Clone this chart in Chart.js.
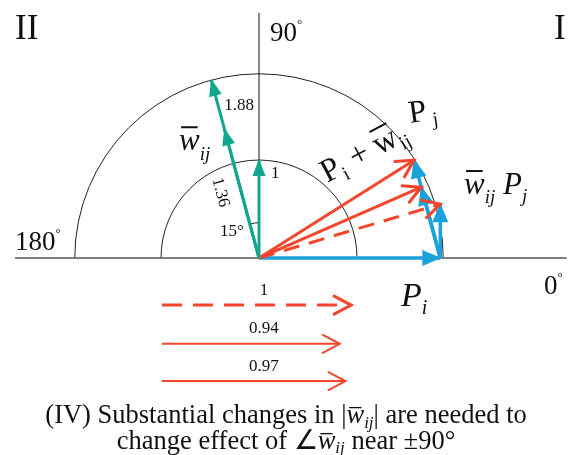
<!DOCTYPE html>
<html>
<head>
<meta charset="utf-8">
<script src="https://cdn.jsdelivr.net/npm/chart.js@4.4.0/dist/chart.umd.min.js"></script>
<style>
html, body { margin: 0; padding: 0; background: #fff; }
#wrap { width: 572px; height: 455px; position: relative; }
</style>
</head>
<body>
<div id="wrap"><canvas id="phasor"></canvas></div>
<script>
// w_ij phasors (green): magnitude and angle in degrees
var wMag = [1, 1.36, 1.88];
var wAngle = [90, 105, 105];
// |P_i| and |P_j|, inner circle = 1
var piMag = 1.85;
var pjMag = 0.55;
// |P_i + w_ij P_j| relative to the dashed case, shown under the sketch
var sumLabels = ['1', '0.94', '0.97'];
var sumRel = [1, 0.94, 0.97];
var circleRadii = [1, 1.88];
var angleLabels = ['90', '180', '0'];

var RED = '#f4462c', BLUE = '#1ba2da', GREEN = '#13a68e';
var SERIF = '"Liberation Serif", "Times New Roman", serif';

function rad(d) { return d * Math.PI / 180; }

var datasets = [];

// axes
datasets.push({ data: [{x: -2.49, y: 0}, {x: 3.14, y: 0}], borderColor: '#555', borderWidth: 1.5 });
datasets.push({ data: [{x: 0, y: 0}, {x: 0, y: 2.5}], borderColor: '#111', borderWidth: 1 });

// P_i (blue, along 0 deg)
datasets.push({ data: [{x: 0, y: 0}, {x: piMag, y: 0}], borderColor: BLUE, borderWidth: 3.5, head: 'fill' });

var tips = [];
for (var k = 0; k < wMag.length; k++) {
  var tx = piMag + pjMag * wMag[k] * Math.cos(rad(wAngle[k]));
  var ty = pjMag * wMag[k] * Math.sin(rad(wAngle[k]));
  tips.push({x: tx, y: ty});
  // w_ij P_j (blue)
  datasets.push({ data: [{x: piMag, y: 0}, {x: tx, y: ty}], borderColor: BLUE, borderWidth: 3.5, head: 'fill' });
}
for (var k = 0; k < tips.length; k++) {
  // P_i + w_ij P_j (red)
  datasets.push({ data: [{x: 0, y: 0}, tips[k]], borderColor: RED, borderWidth: 3,
    borderDash: k == 0 ? [16, 10] : [], head: 'open' });
}
for (var k = wMag.length - 1; k >= 0; k--) {
  // w_ij (green)
  datasets.push({ data: [{x: 0, y: 0}, {x: wMag[k] * Math.cos(rad(wAngle[k])), y: wMag[k] * Math.sin(rad(wAngle[k]))}],
    borderColor: GREEN, borderWidth: 3, head: 'fill', small: true });
}

// horizontal comparison arrows under the sketch
var refLen = Math.sqrt(tips[0].x * tips[0].x + tips[0].y * tips[0].y);
var rowY = [-0.48, -0.875, -1.255];
for (var k = 0; k < sumRel.length; k++) {
  datasets.push({ data: [{x: -0.99, y: rowY[k]}, {x: -0.99 + refLen * sumRel[k], y: rowY[k]}],
    borderColor: RED, borderWidth: k == 0 ? 3 : 2, borderDash: k == 0 ? [20, 11] : [], head: 'open', thin: k > 0 });
}

// later datasets are painted on top
datasets.forEach(function (d, i) {
  d.showLine = true; d.pointRadius = 0; d.fill = false; d.borderCapStyle = 'butt';
  d.order = datasets.length - i;
});

function rich(ctx, segs, x, y, align) {
  var w = 0;
  segs.forEach(function (s) { ctx.font = s.f; s.w = ctx.measureText(s.t).width; w += s.w; });
  var cur = align == 'center' ? x - w / 2 : x;
  segs.forEach(function (s) {
    ctx.font = s.f;
    ctx.fillText(s.t, cur, y + (s.dy || 0));
    if (s.bar) {
      ctx.fillRect(cur + s.w * s.bar[0], y + (s.dy || 0) - s.bar[2], s.w * s.bar[1], s.bar[3]);
    }
    cur += s.w;
  });
}

var sketchPlugin = {
  id: 'sketch',
  beforeDatasetsDraw: function (chart) {
    var ctx = chart.ctx, sx = chart.scales.x, sy = chart.scales.y;
    var cx = sx.getPixelForValue(0), cy = sy.getPixelForValue(0);
    ctx.save();
    ctx.strokeStyle = '#222';
    ctx.lineWidth = 1;
    circleRadii.forEach(function (r) {
      var rp = sx.getPixelForValue(r) - cx;
      ctx.beginPath();
      ctx.arc(cx, cy, rp, Math.PI, 2 * Math.PI);
      ctx.stroke();
    });
    var ra = sx.getPixelForValue(0.36) - cx;
    ctx.beginPath();
    ctx.arc(cx, cy, ra, -rad(wAngle[1]), -rad(wAngle[0]));
    ctx.stroke();
    ctx.restore();
  },
  afterDatasetsDraw: function (chart) {
    var ctx = chart.ctx, sx = chart.scales.x, sy = chart.scales.y;
    function X(u) { return sx.getPixelForValue(u); }
    function Y(v) { return sy.getPixelForValue(v); }

    // arrow heads
    chart.data.datasets.forEach(function (ds, i) {
      if (!ds.head) return;
      var pts = chart.getDatasetMeta(i).data;
      var a = pts[pts.length - 2], b = pts[pts.length - 1];
      var ang = Math.atan2(b.y - a.y, b.x - a.x);
      ctx.save();
      ctx.translate(b.x, b.y);
      ctx.rotate(ang);
      if (ds.head == 'open') {
        ctx.strokeStyle = ds.borderColor;
        ctx.lineWidth = ds.thin ? 2 : 3;
        ctx.lineCap = 'round';
        ctx.lineJoin = 'miter';
        ctx.beginPath();
        ctx.moveTo(-17, -9);
        ctx.lineTo(0, 0);
        ctx.lineTo(-17, 9);
        ctx.stroke();
      } else {
        var L = ds.small ? 16 : 18, W = ds.small ? 6.5 : 8;
        ctx.fillStyle = ds.borderColor;
        ctx.beginPath();
        ctx.moveTo(1, 0);
        ctx.lineTo(-L, -W);
        ctx.lineTo(-L, W);
        ctx.closePath();
        ctx.fill();
      }
      ctx.restore();
    });

    ctx.save();
    ctx.fillStyle = '#111';
    ctx.textBaseline = 'alphabetic';
    ctx.textAlign = 'left';
    var f = function (sz, it) { return (it ? 'italic ' : '') + sz + 'px ' + SERIF; };

    // quadrant numerals and angles
    rich(ctx, [{t: 'II', f: f(35)}], X(-2.49), Y(2.24));
    rich(ctx, [{t: 'I', f: f(35)}], X(3.01), Y(2.24));
    rich(ctx, [{t: angleLabels[0], f: f(27)}, {t: '°', f: f(13), dy: -13}], X(0.112), Y(2.214));
    rich(ctx, [{t: angleLabels[1], f: f(27)}, {t: '°', f: f(13), dy: -13}], X(-2.49), Y(0.082));
    rich(ctx, [{t: angleLabels[2], f: f(27)}, {t: '°', f: f(13), dy: -13}], X(2.908), Y(-0.367));

    // magnitudes of w_ij
    rich(ctx, [{t: String(wMag[2]), f: f(17)}], X(-0.204), Y(1.51), 'center');
    rich(ctx, [{t: String(wMag[0]), f: f(17)}], X(0.122), Y(0.816));
    rich(ctx, [{t: '15°', f: f(17)}], X(-0.276), Y(0.224), 'center');
    ctx.save();
    ctx.translate(X(-0.378), Y(0.673));
    ctx.rotate(rad(75));
    rich(ctx, [{t: String(wMag[1]), f: f(17)}], 0, 6, 'center');
    ctx.restore();

    // phasor names
    rich(ctx, [{t: 'w', f: f(31, true), bar: [0.1, 0.8, 24, 2]}, {t: 'ij', f: f(19, true), dy: 10}], X(-0.816), Y(1.10));
    rich(ctx, [{t: 'w', f: f(31, true), bar: [0.1, 0.8, 24, 2]}, {t: 'ij', f: f(19, true), dy: 9},
      {t: ' P', f: f(31, true)}, {t: 'j', f: f(19, true), dy: 8}], X(2.092), Y(0.653));
    rich(ctx, [{t: 'P', f: f(34, true)}, {t: 'i', f: f(20, true), dy: 8}], X(1.449), Y(-0.49));

    ctx.save();
    ctx.translate(X(0.694), Y(0.765));
    ctx.rotate(rad(-28));
    rich(ctx, [{t: 'P', f: f(33)}, {t: 'i', f: f(20), dy: 7}, {t: ' + ', f: f(33)},
      {t: 'w', f: f(33), bar: [0.1, 0.8, 26, 2]}, {t: 'ij', f: f(20), dy: 7}], 0, 0);
    ctx.restore();
    ctx.save();
    ctx.translate(X(1.541), Y(1.378));
    ctx.rotate(rad(-8));
    rich(ctx, [{t: 'P', f: f(32)}, {t: ' j', f: f(20), dy: 6}], 0, 0);
    ctx.restore();

    // relative magnitude labels
    var lblY = [-0.378, -0.765, -1.153];
    for (var k = 0; k < sumLabels.length; k++) {
      rich(ctx, [{t: sumLabels[k], f: f(17)}], X(0.05), Y(lblY[k]), 'center');
    }

    // caption
    rich(ctx, [{t: '(IV) Substantial changes in |', f: f(26.5)},
      {t: 'w', f: f(26.5, true), bar: [0.15, 0.7, 16, 1.3]}, {t: 'ij', f: f(17, true), dy: 5},
      {t: '| are needed to', f: f(26.5)}], X(0.276), Y(-1.683), 'center');
    rich(ctx, [{t: 'change effect of \u2220', f: f(26.5)},
      {t: 'w', f: f(26.5, true), bar: [0.15, 0.7, 16, 1.3]}, {t: 'ij', f: f(17, true), dy: 4},
      {t: ' near \u00b190\u00b0', f: f(26.5)}], X(0.276), Y(-1.949), 'center');
    ctx.restore();
  }
};

new Chart(document.getElementById('phasor'), {
  type: 'scatter',
  data: { datasets: datasets },
  options: {
    responsive: true,
    maintainAspectRatio: false,
    animation: false,
    layout: { padding: 0 },
    plugins: { legend: { display: false }, tooltip: { enabled: false } },
    scales: {
      x: { type: 'linear', display: false, min: -2.643, max: 3.194 },
      y: { type: 'linear', display: false, min: -2.010, max: 2.633 }
    }
  },
  plugins: [sketchPlugin]
});
</script>
</body>
</html>
